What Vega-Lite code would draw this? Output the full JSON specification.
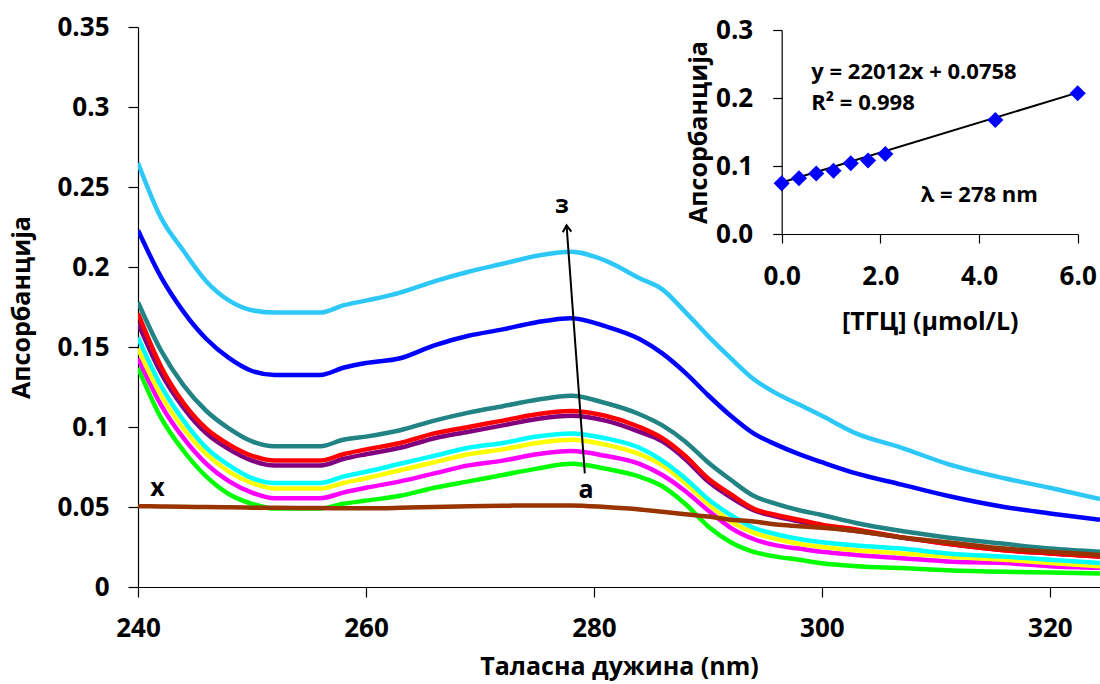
{
  "$schema": "https://vega.github.io/schema/vega-lite/v6.json",
  "autosize": "none",
  "width": 962,
  "height": 560,
  "padding": {"left": 138, "top": 27, "right": 0, "bottom": 97},
  "background": "white",
  "config": {
    "view": {"stroke": null},
    "font": "Open Sans",
    "axis": {
      "grid": false,
      "labelFlush": false,
      "domainColor": "#000000",
      "tickColor": "#000000",
      "labelColor": "#000000",
      "titleColor": "#000000",
      "labelFont": "Open Sans",
      "titleFont": "Open Sans",
      "labelFontWeight": "bold",
      "titleFontWeight": "bold"
    }
  },
  "datasets": {
    "spectra": [
      {"nm": 240, "s1": 0.137, "s2": 0.143, "s3": 0.149, "s4": 0.156, "s5": 0.165, "s6": 0.171, "s7": 0.178, "s8": 0.223, "s9": 0.265, "x": 0.0505},
      {"nm": 242, "s1": 0.106, "s2": 0.114, "s3": 0.120, "s4": 0.126, "s5": 0.134, "s6": 0.138, "s7": 0.148, "s8": 0.194, "s9": 0.231, "x": 0.0503},
      {"nm": 244, "s1": 0.085, "s2": 0.093, "s3": 0.099, "s4": 0.104, "s5": 0.112, "s6": 0.115, "s7": 0.126, "s8": 0.172, "s9": 0.210, "x": 0.0501},
      {"nm": 246, "s1": 0.069, "s2": 0.077, "s3": 0.083, "s4": 0.087, "s5": 0.096, "s6": 0.099, "s7": 0.110, "s8": 0.155, "s9": 0.191, "x": 0.0500},
      {"nm": 248, "s1": 0.058, "s2": 0.066, "s3": 0.072, "s4": 0.076, "s5": 0.086, "s6": 0.089, "s7": 0.099, "s8": 0.143, "s9": 0.179, "x": 0.0498},
      {"nm": 250, "s1": 0.052, "s2": 0.059, "s3": 0.065, "s4": 0.068, "s5": 0.079, "s6": 0.082, "s7": 0.091, "s8": 0.135, "s9": 0.173, "x": 0.0496},
      {"nm": 252, "s1": 0.049, "s2": 0.0555, "s3": 0.0615, "s4": 0.065, "s5": 0.076, "s6": 0.079, "s7": 0.088, "s8": 0.1325, "s9": 0.1715, "x": 0.0495},
      {"nm": 256, "s1": 0.049, "s2": 0.0555, "s3": 0.0615, "s4": 0.065, "s5": 0.076, "s6": 0.079, "s7": 0.088, "s8": 0.1325, "s9": 0.1715, "x": 0.0493},
      {"nm": 258, "s1": 0.052, "s2": 0.059, "s3": 0.065, "s4": 0.069, "s5": 0.080, "s6": 0.083, "s7": 0.092, "s8": 0.137, "s9": 0.176, "x": 0.0492},
      {"nm": 260, "s1": 0.054, "s2": 0.062, "s3": 0.068, "s4": 0.072, "s5": 0.083, "s6": 0.086, "s7": 0.094, "s8": 0.140, "s9": 0.179, "x": 0.0492},
      {"nm": 263, "s1": 0.057, "s2": 0.066, "s3": 0.073, "s4": 0.077, "s5": 0.087, "s6": 0.090, "s7": 0.098, "s8": 0.143, "s9": 0.184, "x": 0.0495},
      {"nm": 266, "s1": 0.062, "s2": 0.071, "s3": 0.078, "s4": 0.082, "s5": 0.093, "s6": 0.096, "s7": 0.104, "s8": 0.151, "s9": 0.191, "x": 0.0500},
      {"nm": 269, "s1": 0.066, "s2": 0.076, "s3": 0.083, "s4": 0.087, "s5": 0.097, "s6": 0.100, "s7": 0.109, "s8": 0.157, "s9": 0.197, "x": 0.0505},
      {"nm": 272, "s1": 0.070, "s2": 0.079, "s3": 0.086, "s4": 0.090, "s5": 0.101, "s6": 0.104, "s7": 0.113, "s8": 0.161, "s9": 0.202, "x": 0.0508},
      {"nm": 275, "s1": 0.074, "s2": 0.083, "s3": 0.090, "s4": 0.094, "s5": 0.105, "s6": 0.108, "s7": 0.117, "s8": 0.1655, "s9": 0.207, "x": 0.0510},
      {"nm": 278, "s1": 0.077, "s2": 0.085, "s3": 0.092, "s4": 0.096, "s5": 0.107, "s6": 0.110, "s7": 0.1195, "s8": 0.168, "s9": 0.2095, "x": 0.0510},
      {"nm": 281, "s1": 0.074, "s2": 0.082, "s3": 0.089, "s4": 0.093, "s5": 0.104, "s6": 0.107, "s7": 0.115, "s8": 0.163, "s9": 0.204, "x": 0.0500},
      {"nm": 284, "s1": 0.069, "s2": 0.077, "s3": 0.083, "s4": 0.087, "s5": 0.097, "s6": 0.100, "s7": 0.108, "s8": 0.155, "s9": 0.193, "x": 0.0485},
      {"nm": 286, "s1": 0.063, "s2": 0.070, "s3": 0.076, "s4": 0.079, "s5": 0.091, "s6": 0.093, "s7": 0.101, "s8": 0.146, "s9": 0.186, "x": 0.0470},
      {"nm": 288, "s1": 0.052, "s2": 0.060, "s3": 0.065, "s4": 0.068, "s5": 0.080, "s6": 0.082, "s7": 0.091, "s8": 0.134, "s9": 0.172, "x": 0.0455},
      {"nm": 290, "s1": 0.038, "s2": 0.048, "s3": 0.052, "s4": 0.055, "s5": 0.066, "s6": 0.068, "s7": 0.078, "s8": 0.120, "s9": 0.157, "x": 0.0440},
      {"nm": 292, "s1": 0.028, "s2": 0.037, "s3": 0.041, "s4": 0.045, "s5": 0.056, "s6": 0.058, "s7": 0.067, "s8": 0.107, "s9": 0.143, "x": 0.0420},
      {"nm": 294, "s1": 0.022, "s2": 0.030, "s3": 0.034, "s4": 0.037, "s5": 0.048, "s6": 0.049, "s7": 0.057, "s8": 0.096, "s9": 0.130, "x": 0.0410},
      {"nm": 296, "s1": 0.019, "s2": 0.026, "s3": 0.030, "s4": 0.033, "s5": 0.044, "s6": 0.045, "s7": 0.052, "s8": 0.089, "s9": 0.121, "x": 0.0390},
      {"nm": 298, "s1": 0.017, "s2": 0.024, "s3": 0.027, "s4": 0.030, "s5": 0.041, "s6": 0.042, "s7": 0.048, "s8": 0.083, "s9": 0.114, "x": 0.0380},
      {"nm": 300, "s1": 0.0148, "s2": 0.022, "s3": 0.025, "s4": 0.028, "s5": 0.038, "s6": 0.039, "s7": 0.045, "s8": 0.078, "s9": 0.107, "x": 0.0370},
      {"nm": 303, "s1": 0.013, "s2": 0.020, "s3": 0.023, "s4": 0.026, "s5": 0.035, "s6": 0.036, "s7": 0.040, "s8": 0.071, "s9": 0.096, "x": 0.0350},
      {"nm": 307, "s1": 0.0118, "s2": 0.018, "s3": 0.021, "s4": 0.024, "s5": 0.031, "s6": 0.031, "s7": 0.035, "s8": 0.064, "s9": 0.087, "x": 0.0310},
      {"nm": 311, "s1": 0.0105, "s2": 0.016, "s3": 0.019, "s4": 0.021, "s5": 0.027, "s6": 0.027, "s7": 0.031, "s8": 0.057, "s9": 0.077, "x": 0.0280},
      {"nm": 316, "s1": 0.0095, "s2": 0.015, "s3": 0.017, "s4": 0.019, "s5": 0.023, "s6": 0.023, "s7": 0.027, "s8": 0.050, "s9": 0.068, "x": 0.0240},
      {"nm": 320, "s1": 0.009, "s2": 0.013, "s3": 0.015, "s4": 0.017, "s5": 0.021, "s6": 0.021, "s7": 0.024, "s8": 0.046, "s9": 0.062, "x": 0.0220},
      {"nm": 324.4, "s1": 0.0085, "s2": 0.012, "s3": 0.013, "s4": 0.015, "s5": 0.019, "s6": 0.019, "s7": 0.022, "s8": 0.042, "s9": 0.055, "x": 0.0200}
    ],
    "labels": [
      {"nm": 241.7, "v": 0.062, "t": "х"},
      {"nm": 279.3, "v": 0.0606, "t": "а"},
      {"nm": 277.2, "v": 0.239, "t": "з"}
    ],
    "arrow": [
      {"nm": 279.2, "v": 0.071},
      {"nm": 277.6, "v": 0.226}
    ],
    "arrowhead": [
      {"nm": 277.6, "v": 0.226}
    ],
    "calib": [
      {"c": 0.0, "A": 0.0745},
      {"c": 0.35, "A": 0.082},
      {"c": 0.7, "A": 0.089},
      {"c": 1.05, "A": 0.093},
      {"c": 1.4, "A": 0.104},
      {"c": 1.75, "A": 0.108},
      {"c": 2.1, "A": 0.1176},
      {"c": 4.33, "A": 0.1676},
      {"c": 6.0, "A": 0.207}
    ],
    "fit": [
      {"c": 0.0, "A": 0.0758},
      {"c": 6.0, "A": 0.2079}
    ],
    "insettext": [
      {"c": 0.6, "A": 0.238, "t": "y = 22012x + 0.0758"},
      {"c": 0.6, "A": 0.193, "t": "R² = 0.998"},
      {"c": 2.82, "A": 0.057, "t": "λ = 278 nm"}
    ]
  },
  "layer": [
    {
      "layer": [
        {
          "data": {"name": "spectra"},
          "transform": [
            {"fold": ["s1", "s2", "s3", "s4", "s5", "s6", "s7", "s8", "s9", "x"], "as": ["series", "v"]}
          ],
          "mark": {"type": "line", "interpolate": "monotone", "clip": true},
          "encoding": {
            "x": {
              "field": "nm", "type": "quantitative",
              "scale": {"domain": [240, 324.4], "nice": false, "zero": false},
              "axis": {
                "title": "Таласна дужина (nm)",
                "values": [240, 260, 280, 300, 320],
                "tickSize": 10,
                "labelFontSize": 26,
                "labelPadding": 18,
                "titleFontSize": 25,
                "titlePadding": 13,
                "domainWidth": 1.2,
                "tickWidth": 1.2
              }
            },
            "y": {
              "field": "v", "type": "quantitative",
              "scale": {"domain": [0, 0.35], "nice": false},
              "axis": {
                "title": "Апсорбанција",
                "values": [0, 0.05, 0.1, 0.15, 0.2, 0.25, 0.3, 0.35],
                "format": "~g",
                "tickSize": 10,
                "labelFontSize": 26,
                "labelPadding": 19,
                "titleFontSize": 25,
                "titlePadding": 22,
                "domainWidth": 1.2,
                "tickWidth": 1.2
              }
            },
            "color": {
              "field": "series", "type": "nominal",
              "scale": {
                "domain": ["s1", "s2", "s3", "s4", "s5", "s6", "s7", "s8", "s9", "x"],
                "range": ["#00FF00", "#FF00FF", "#FFFF00", "#00FFFF", "#800080", "#FF0000", "#218383", "#0000FF", "#2EC8F8", "#993300"]
              },
              "legend": null
            },
            "strokeWidth": {
              "field": "series", "type": "nominal",
              "scale": {
                "domain": ["s1", "s2", "s3", "s4", "s5", "s6", "s7", "s8", "s9", "x"],
                "range": [4.5, 4.5, 4.5, 4.5, 4.5, 6, 4.5, 4.5, 4.5, 4.5]
              },
              "legend": null
            }
          }
        },
        {
          "data": {"name": "arrow"},
          "mark": {"type": "line", "color": "#000000", "strokeWidth": 2},
          "encoding": {
            "x": {"field": "nm", "type": "quantitative"},
            "y": {"field": "v", "type": "quantitative"}
          }
        },
        {
          "data": {"name": "arrowhead"},
          "mark": {"type": "point", "shape": "M-0.5,0.75L0,0L0.5,0.75", "filled": false, "stroke": "#000000", "strokeWidth": 2, "size": 300, "angle": -4.4, "opacity": 1},
          "encoding": {
            "x": {"field": "nm", "type": "quantitative"},
            "y": {"field": "v", "type": "quantitative"}
          }
        },
        {
          "data": {"name": "labels"},
          "mark": {"type": "text", "font": "Open Sans", "fontWeight": "bold", "fontSize": 25, "color": "#000000", "align": "center", "baseline": "middle"},
          "encoding": {
            "x": {"field": "nm", "type": "quantitative"},
            "y": {"field": "v", "type": "quantitative"},
            "text": {"field": "t"}
          }
        }
      ]
    },
    {
      "layer": [
        {
          "data": {"name": "fit"},
          "mark": {"type": "line", "color": "#000000", "strokeWidth": 2},
          "encoding": {
            "x": {
              "field": "c", "type": "quantitative",
              "scale": {"domain": [0, 6], "nice": false, "zero": false, "range": [643.7, 939.7]},
              "axis": {
                "orient": "bottom",
                "offset": -353,
                "title": "[ТГЦ] (μmol/L)",
                "values": [0, 2, 4, 6],
                "format": ".1f",
                "tickSize": 9,
                "labelFontSize": 26,
                "labelPadding": 20,
                "titleFontSize": 25,
                "titlePadding": 20,
                "domainWidth": 1.2,
                "tickWidth": 1.2
              }
            },
            "y": {
              "field": "A", "type": "quantitative",
              "scale": {"domain": [0, 0.3], "nice": false, "range": [207, 3]},
              "axis": {
                "orient": "left",
                "offset": -643.7,
                "title": "Апсорбанција",
                "values": [0, 0.1, 0.2, 0.3],
                "format": ".1f",
                "tickSize": 9,
                "labelFontSize": 26,
                "labelPadding": 20,
                "labelAlign": "right",
                "titleFontSize": 25,
                "titlePadding": 4,
                "domainWidth": 1.2,
                "tickWidth": 1.2
              }
            }
          }
        },
        {
          "data": {"name": "calib"},
          "mark": {"type": "point", "shape": "diamond", "filled": true, "color": "#0000FF", "size": 260, "opacity": 1},
          "encoding": {
            "x": {"field": "c", "type": "quantitative"},
            "y": {"field": "A", "type": "quantitative"}
          }
        },
        {
          "data": {"name": "insettext"},
          "mark": {"type": "text", "font": "Open Sans", "fontWeight": "bold", "fontSize": 22, "color": "#000000", "align": "left", "baseline": "middle"},
          "encoding": {
            "x": {"field": "c", "type": "quantitative"},
            "y": {"field": "A", "type": "quantitative"},
            "text": {"field": "t"}
          }
        }
      ]
    }
  ],
  "resolve": {
    "scale": {"x": "independent", "y": "independent", "color": "independent", "strokeWidth": "independent"},
    "axis": {"x": "independent", "y": "independent"}
  }
}
